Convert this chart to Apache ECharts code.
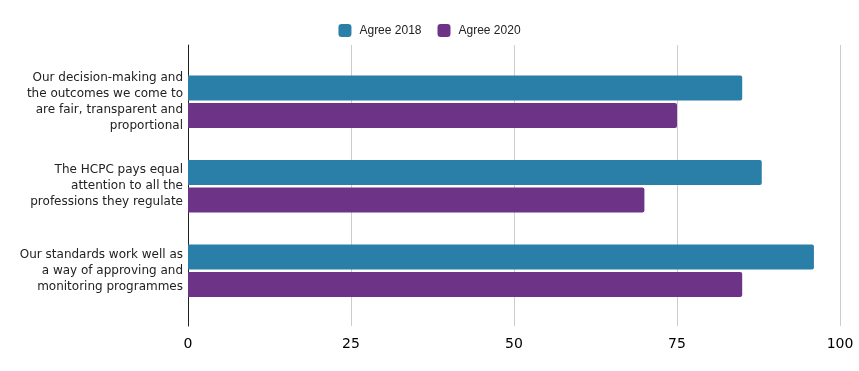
<!DOCTYPE html>
<html>
<head>
<meta charset="utf-8">
<script src="https://cdn.jsdelivr.net/npm/echarts@6/dist/echarts.min.js"></script>
<style>html,body{margin:0;padding:0;background:#fff}#c{width:859px;height:371px}</style>
</head>
<body>
<div id="c"></div>
<script>
var categories = [
  "Our decision-making and\nthe outcomes we come to\nare fair, transparent and\nproportional",
  "The HCPC pays equal\nattention to all the\nprofessions they regulate",
  "Our standards work well as\na way of approving and\nmonitoring programmes"
];
var seriesNames = ["Agree 2018", "Agree 2020"];
var agree2018 = [85, 88, 96];
var agree2020 = [75, 70, 85];
var xTicks = [0, 25, 50, 75, 100];

var chart = echarts.init(document.getElementById('c'), null, {renderer: 'canvas'});
chart.setOption({
  animation: false,
  backgroundColor: '#ffffff',
  color: ['#2a7fa9', '#6d3386'],
  legend: {
    top: 19,
    left: 'center',
    icon: 'roundRect',
    itemWidth: 13,
    itemHeight: 13,
    itemGap: 16,
    data: seriesNames,
    textStyle: {fontFamily: 'Liberation Sans', fontSize: 12, color: '#222', padding: [0, 0, 0, 3]}
  },
  grid: [
    {left: 188, right: 19, top: 45, height: 281},
    {left: 188, right: 19, top: 59.5, height: 253.5}
  ],
  xAxis: [
    {
      gridIndex: 0, type: 'value', min: xTicks[0], max: xTicks[xTicks.length - 1], interval: 25,
      axisLine: {show: false}, axisTick: {show: false},
      splitLine: {show: true, lineStyle: {color: '#cccccc', width: 1}},
      axisLabel: {fontFamily: 'DejaVu Sans', fontSize: 14, color: '#000', margin: 11}
    },
    {
      gridIndex: 1, type: 'value', min: 0, max: 100, show: false
    }
  ],
  yAxis: [
    {
      gridIndex: 0, type: 'value', min: 0, max: 1,
      axisLine: {show: true, lineStyle: {color: '#222', width: 1}},
      axisTick: {show: false}, axisLabel: {show: false}, splitLine: {show: false}
    },
    {
      gridIndex: 1, type: 'category', data: categories, inverse: true,
      axisLine: {show: false}, axisTick: {show: false}, splitLine: {show: false},
      axisLabel: {fontFamily: 'DejaVu Sans', fontSize: 12, lineHeight: 16, color: '#222', margin: 5}
    }
  ],
  series: [
    {
      name: seriesNames[0], type: 'bar', xAxisIndex: 1, yAxisIndex: 1,
      data: agree2018, barWidth: 25, barGap: '10%',
      itemStyle: {borderRadius: [0, 2, 2, 0]}
    },
    {
      name: seriesNames[1], type: 'bar', xAxisIndex: 1, yAxisIndex: 1,
      data: agree2020, barWidth: 25, barGap: '10%',
      itemStyle: {borderRadius: [0, 2, 2, 0]}
    }
  ]
});
</script>
</body>
</html>
